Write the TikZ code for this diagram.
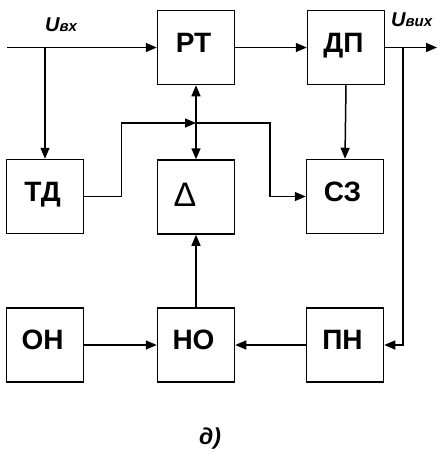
\documentclass[tikz,border=0pt]{standalone}
\usepackage{fontspec}
\setmainfont{Liberation Sans}
\usetikzlibrary{arrows.meta}
\newcommand{\up}[1]{\raisebox{10pt}{#1}\hspace*{5pt}}
\begin{document}
\begin{tikzpicture}[x=1pt,y=-1pt,
  blk/.style={draw, line width=1.5pt, minimum width=77pt, minimum height=74pt, inner sep=0pt,
    font=\fontsize{28}{30}\selectfont\bfseries},
  ln/.style={line width=1.5pt},
  arr/.style={ln, -{Triangle[length=11pt,width=9pt]}},
  darr/.style={ln, {Triangle[length=11pt,width=9pt]}-{Triangle[length=11pt,width=9pt]}},
  lbl/.style={font=\fontsize{20}{24}\selectfont\itshape\bfseries, inner sep=0pt}]
\useasboundingbox (0,0) rectangle (447,453);
\node[blk] (RT) at (196,47.5) {\up{РТ}};
\node[blk] (DP) at (346,47.5) {\up{ДП}};
\node[blk] (TD) at (45,196.5) {\up{ТД}};
\node[blk] (D)  at (196,197) {\raisebox{5pt}{\fontsize{34}{34}\selectfont\mdseries Δ}\hspace*{22pt}};
\node[blk] (SZ) at (345,196.5) {\up{СЗ}};
\node[blk] (ON) at (45,345) {\up{ОН}};
\node[blk] (NO) at (196,345) {\up{НО}};
\node[blk] (PN) at (345,345) {\up{ПН}};
\coordinate (in) at (7,47.5);
\coordinate (out) at (437,47.5);
\coordinate (ob) at (403,47.5);
\coordinate (j) at (196,123);
\draw[arr] (in) -- (RT.west);
\draw[arr] (TD.north |- in) -- (TD.north);
\draw[arr] (RT.east) -- (DP.west);
\draw[arr] (DP.east) -- (out);
\draw[arr] (ob) |- (PN.east);
\draw[arr] (DP.south) -- (SZ.north);
\draw[darr] (RT.south) -- (D.north);
\draw[arr] (TD.east) -- ++(37,0) |- (j);
\draw[arr] (j) -- (270,123) |- (SZ.west);
\draw[arr] (NO.north) -- (D.south);
\draw[arr] (ON.east) -- (NO.west);
\draw[arr] (PN.west) -- (NO.east);
\node[lbl, anchor=base west] (uin) at (45,31) {U{\fontsize{15}{15}\selectfont вх}};
\node[lbl, anchor=base west] (uout) at (391,26) {U{\fontsize{15}{15}\selectfont вих}};
\node[lbl, anchor=base] (cap) at (210,444) {\fontsize{23}{24}\selectfont д)};
\end{tikzpicture}
\end{document}
